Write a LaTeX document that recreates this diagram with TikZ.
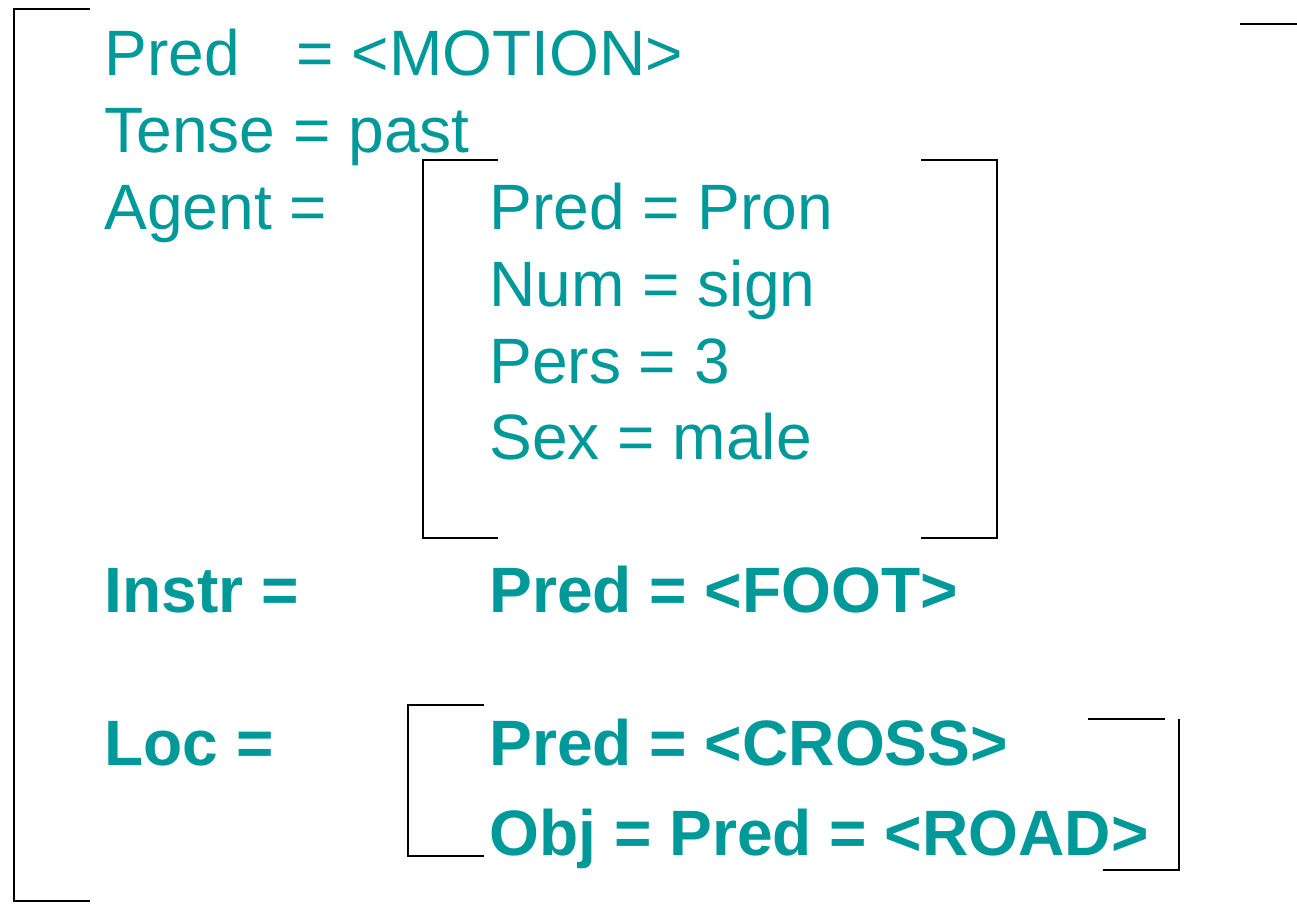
\documentclass[tikz,border=0pt]{standalone}
\usepackage{fontspec}
\setmainfont{Liberation Sans}
\definecolor{featcol}{RGB}{0,153,153}

\begin{document}
\begin{tikzpicture}[x=0.02cm,y=-0.02cm,
  feat/.style={anchor=base west,inner sep=0pt,text=featcol,font=\fontsize{36.5}{44}\selectfont},
  featb/.style={feat,font=\fontsize{36.5}{44}\selectfont\bfseries},
  brk/.style={line width=1.1pt,black}]
\useasboundingbox (0,0) rectangle (1297,911);

% outer structure
\draw[brk] (90,9) -- (14,9) -- (14,901) -- (90,901);
\draw[brk] (1240,24) -- (1297,24);
\node[feat] (pred) at (104,76) {Pred};
\node[feat] (motion) at (296,76) {= <MOTION>};
\node[feat] (tense) at (104,153) {Tense = past};
\node[feat] (agent) at (104,230) {Agent =};

% agent structure
\draw[brk] (498,160) -- (423,160) -- (423,538) -- (498,538);
\draw[brk] (921,160) -- (997,160) -- (997,538) -- (921,538);
\node[feat] (apred) at (489,230) {Pred = Pron};
\node[feat] (anum) at (489,307) {Num = sign};
\node[feat] (apers) at (489,384) {Pers = 3};
\node[feat] (asex) at (489,460) {Sex = male};

% instrument
\node[featb] (instr) at (104,612) {Instr =};
\node[featb] (foot) at (489,612) {Pred = <FOOT>};

% location
\node[featb] (loc) at (104,765) {Loc =};
\draw[brk] (484,705) -- (408,705) -- (408,856) -- (484,856);
\draw[brk] (1088,719) -- (1165,719);
\draw[brk] (1179,719) -- (1179,870) -- (1103,870);
\node[featb] (cross) at (489,765) {Pred = <CROSS>};
\node[featb] (road) at (489,855) {Obj = Pred = <ROAD>};
\end{tikzpicture}
\end{document}
